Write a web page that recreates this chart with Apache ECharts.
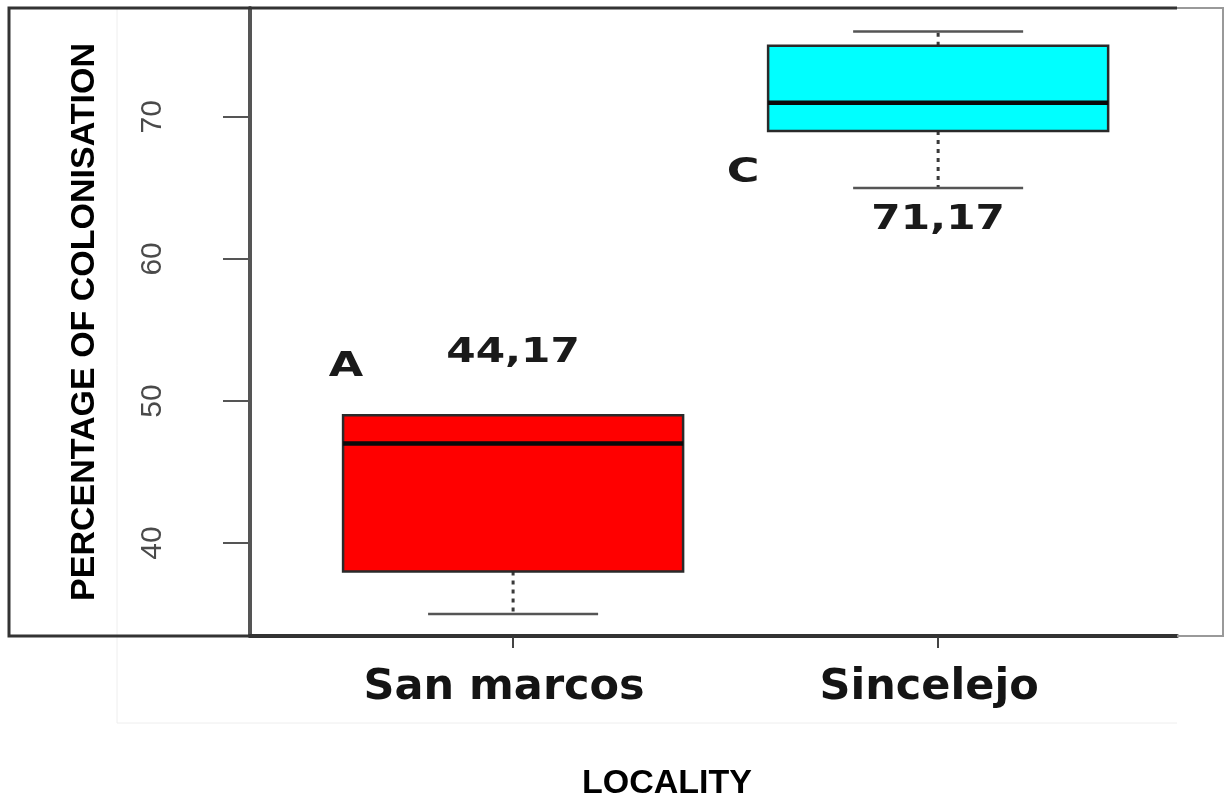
<!DOCTYPE html>
<html>
<head>
<meta charset="utf-8">
<title>Percentage of colonisation by locality</title>
<script src="https://cdn.jsdelivr.net/npm/echarts@6/dist/echarts.min.js"></script>
<style>
  html, body { margin: 0; padding: 0; background: #fff; }
  #chart { width: 1225px; height: 798px; }
</style>
</head>
<body>
<div id="chart"></div>
<script>
// Localities and their colonisation percentages (five-number summaries)
const categories = ['San marcos', 'Sincelejo'];
const mins    = [35, 65];
const q1s     = [38, 69];
const medians = [47, 71];
const q3s     = [49, 75];
const maxs    = [49, 76];
const means   = [44.17, 71.17];
const groups  = ['A', 'C'];
const yTicks  = [40, 50, 60, 70];

const boxColors = ['#ff0000', '#00ffff'];

// Where each group letter and mean value sit around its box (pixel offsets)
const annotationLayout = [
  { meanAt: 'top',    meanDy: -62, letterDx: -167, letterRef: 'q3',  letterDy: -48 },
  { meanAt: 'bottom', meanDy: 33,  letterDx: -195, letterRef: 'min', letterDy: -14 }
];

const boxData = categories.map((c, i) => [i + 1, mins[i], q1s[i], medians[i], q3s[i], maxs[i], means[i]]);

function renderBox(params, api) {
  const i = params.dataIndex;
  const x = api.value(0);
  const pMin = api.coord([x, api.value(1)]);
  const pQ1  = api.coord([x, api.value(2)]);
  const pMed = api.coord([x, api.value(3)]);
  const pQ3  = api.coord([x, api.value(4)]);
  const pMax = api.coord([x, api.value(5)]);
  const cx = pMed[0];
  const halfW = api.size([0.8, 0])[0] / 2;
  const capHalf = halfW / 2;
  const whisker = { stroke: '#3a3a3a', lineWidth: 3, lineDash: [4, 5] };
  const cap = { stroke: '#555', lineWidth: 2.5 };
  const children = [];

  if (pQ1[1] !== pMin[1]) {
    children.push({ type: 'line', shape: { x1: cx, y1: pQ1[1], x2: cx, y2: pMin[1] }, style: whisker });
  }
  if (pQ3[1] !== pMax[1]) {
    children.push({ type: 'line', shape: { x1: cx, y1: pQ3[1], x2: cx, y2: pMax[1] }, style: whisker });
  }
  children.push({ type: 'line', shape: { x1: cx - capHalf, y1: pMin[1], x2: cx + capHalf, y2: pMin[1] }, style: cap });
  children.push({ type: 'line', shape: { x1: cx - capHalf, y1: pMax[1], x2: cx + capHalf, y2: pMax[1] }, style: cap });

  children.push({
    type: 'rect',
    shape: { x: cx - halfW, y: pQ3[1], width: halfW * 2, height: pQ1[1] - pQ3[1] },
    style: { fill: boxColors[i], stroke: '#2a2a2a', lineWidth: 2.5 }
  });
  children.push({
    type: 'line',
    shape: { x1: cx - halfW, y1: pMed[1], x2: cx + halfW, y2: pMed[1] },
    style: { stroke: '#0a0a0a', lineWidth: 4.5 }
  });

  const lay = annotationLayout[i];
  const textStyle = {
    fontFamily: 'DejaVu Sans', fontWeight: 'bold', fontSize: 33,
    fill: '#1a1a1a', align: 'center', verticalAlign: 'middle'
  };
  const meanY = lay.meanAt === 'top' ? pQ3[1] + lay.meanDy : pMin[1] + lay.meanDy;
  children.push({
    type: 'text', x: cx, y: meanY, scaleX: 1.28,
    style: Object.assign({ text: api.value(6).toFixed(2).replace('.', ',') }, textStyle)
  });
  const refY = lay.letterRef === 'q3' ? pQ3[1] : pMin[1];
  children.push({
    type: 'text', x: cx + lay.letterDx, y: refY + lay.letterDy, scaleX: 1.35,
    style: Object.assign({ text: groups[i] }, textStyle)
  });

  return { type: 'group', children: children };
}

const chart = echarts.init(document.getElementById('chart'), null, { renderer: 'canvas' });

chart.setOption({
  backgroundColor: '#ffffff',
  animation: false,
  grid: { left: 250, right: 48, top: 8, bottom: 162, containLabel: false },
  xAxis: {
    type: 'value',
    min: 0.381,
    max: 2.562,
    splitLine: { show: false },
    axisLine: { show: true, onZero: false, lineStyle: { color: '#333', width: 4 } },
    axisTick: { show: true, customValues: [1, 2], length: 12, lineStyle: { color: '#444', width: 2 } },
    axisLabel: {
      customValues: [1, 2],
      formatter: v => categories[Math.round(v) - 1] || '',
      fontFamily: 'DejaVu Sans', fontWeight: 'bold', fontSize: 43,
      color: '#141414', margin: 30,
      padding: [0, 18, 0, 0]
    }
  },
  yAxis: {
    type: 'value',
    min: 33.46,
    max: 77.66,
    splitLine: { show: false },
    axisLine: { show: true, onZero: false, lineStyle: { color: '#555', width: 4 } },
    axisTick: { show: true, customValues: yTicks, length: 27, lineStyle: { color: '#555', width: 2 } },
    axisLabel: {
      customValues: yTicks,
      rotate: 90,
      margin: 82,
      fontFamily: 'Liberation Sans', fontSize: 30, color: '#4a4a4a'
    },
    name: 'PERCENTAGE OF COLONISATION',
    nameLocation: 'middle',
    nameGap: 148,
    nameTextStyle: { fontFamily: 'Liberation Sans', fontWeight: 'bold', fontSize: 34, color: '#000' }
  },
  series: [{
    type: 'custom',
    renderItem: renderBox,
    data: boxData,
    encode: { x: 0, y: [1, 2, 3, 4, 5] },
    silent: true
  }],
  graphic: [
    // faint outline of the inner figure panel
    { type: 'polyline', silent: true, z: 0,
      shape: { points: [[117, 8], [117, 723], [1177, 723]] },
      style: { stroke: '#eeeeee', lineWidth: 1, fill: null } },
    // outer frame, darker on the left
    { type: 'polyline', silent: true, z: 5,
      shape: { points: [[1177, 8], [9, 8], [9, 636], [1177, 636]] },
      style: { stroke: '#333', lineWidth: 3, fill: null } },
    { type: 'polyline', silent: true, z: 5,
      shape: { points: [[1177, 8], [1223, 8], [1223, 636], [1177, 636]] },
      style: { stroke: '#999', lineWidth: 2, fill: null } },
    // x axis title
    { type: 'text', silent: true, x: 667, y: 784,
      style: { text: 'LOCALITY', fontFamily: 'Liberation Sans', fontWeight: 'bold', fontSize: 34,
               fill: '#000', align: 'center', verticalAlign: 'middle' } }
  ]
});
</script>
</body>
</html>
